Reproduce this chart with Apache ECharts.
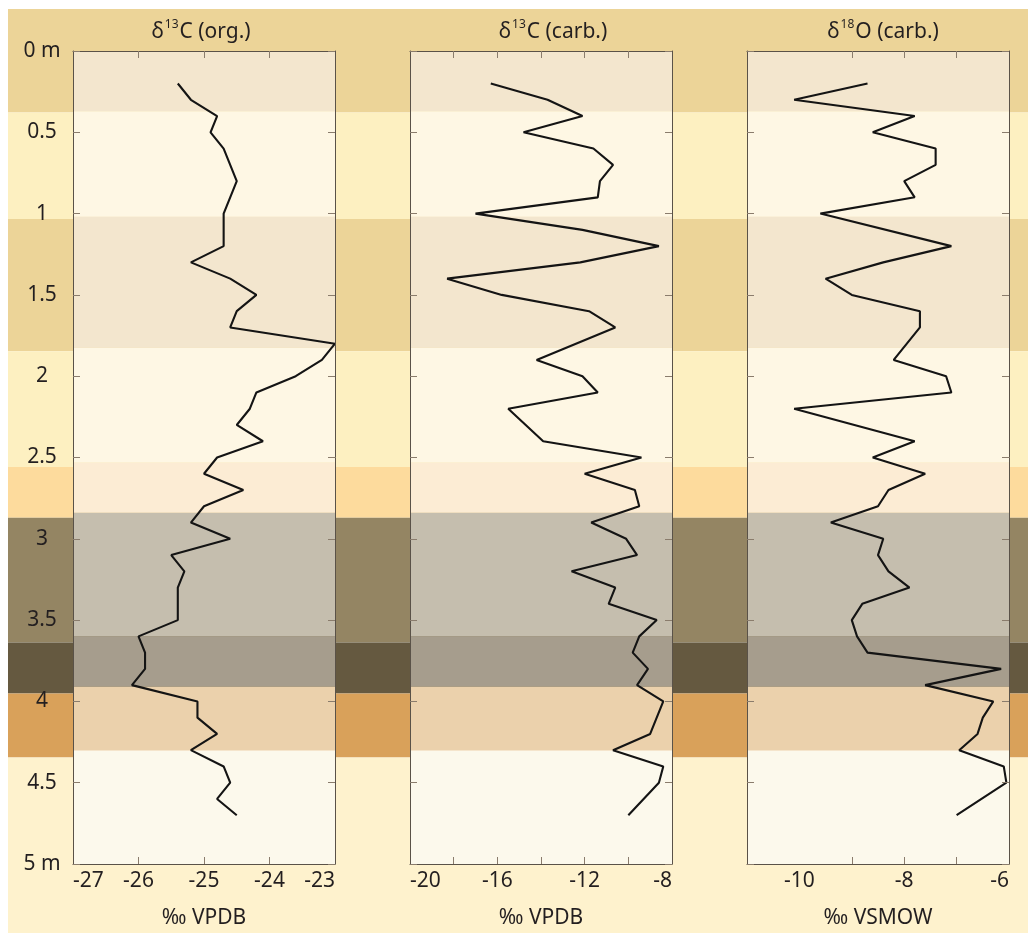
<!DOCTYPE html>
<html>
<head>
<meta charset="utf-8">
<script src="https://cdn.jsdelivr.net/npm/echarts@6/dist/echarts.min.js"></script>
<style>
html,body{margin:0;padding:0;background:#fff;}
#c{width:1028px;height:934px;}
</style>
</head>
<body>
<div id="c"></div>
<script>
// ---------- data ----------
const depthOrg = [0.2,0.3,0.4,0.5,0.6,0.8,1.0,1.2,1.3,1.4,1.5,1.6,1.7,1.8,1.9,2.0,2.1,2.2,2.3,2.4,2.5,2.6,2.7,2.8,2.9,3.0,3.1,3.2,3.3,3.5,3.6,3.7,3.8,3.9,4.0,4.1,4.2,4.3,4.4,4.5,4.6,4.7];
const d13Corg = [-25.4,-25.2,-24.8,-24.9,-24.7,-24.5,-24.7,-24.7,-25.2,-24.6,-24.2,-24.5,-24.6,-23.0,-23.2,-23.6,-24.2,-24.3,-24.5,-24.1,-24.8,-25.0,-24.4,-25.0,-25.2,-24.6,-25.5,-25.3,-25.4,-25.4,-26.0,-25.9,-25.9,-26.1,-25.1,-25.1,-24.8,-25.2,-24.7,-24.6,-24.8,-24.5];

const depthCarb = [0.2,0.3,0.4,0.5,0.6,0.7,0.8,0.9,1.0,1.1,1.2,1.3,1.4,1.5,1.6,1.7,1.9,2.0,2.1,2.2,2.4,2.5,2.6,2.7,2.8,2.9,3.0,3.1,3.2,3.3,3.4,3.5,3.6,3.7,3.8,3.9,4.0,4.2,4.3,4.4,4.5,4.7];
const d13Ccarb = [-16.3,-13.7,-12.1,-14.8,-11.6,-10.7,-11.3,-11.4,-17.0,-12.1,-8.6,-12.2,-18.3,-15.8,-11.8,-10.6,-14.2,-12.1,-11.4,-15.5,-13.9,-9.4,-12.0,-9.7,-9.5,-11.7,-10.1,-9.6,-12.6,-10.6,-10.9,-8.7,-9.5,-9.8,-9.1,-9.6,-8.4,-9.0,-10.7,-8.4,-8.6,-10.0];

const depthOxy = [0.2,0.3,0.4,0.5,0.6,0.7,0.8,0.9,1.0,1.2,1.3,1.4,1.5,1.6,1.7,1.9,2.0,2.1,2.2,2.4,2.5,2.6,2.7,2.8,2.9,3.0,3.1,3.2,3.3,3.4,3.5,3.6,3.7,3.8,3.9,4.0,4.1,4.2,4.3,4.4,4.5,4.7];
const d18Ocarb = [-8.7,-10.1,-7.8,-8.6,-7.4,-7.4,-8.0,-7.8,-9.6,-7.1,-8.4,-9.5,-9.0,-7.7,-7.7,-8.2,-7.2,-7.1,-10.1,-7.8,-8.6,-7.6,-8.3,-8.5,-9.4,-8.4,-8.5,-8.3,-7.9,-8.8,-9.0,-8.9,-8.7,-6.15,-7.6,-6.3,-6.5,-6.6,-6.95,-6.1,-6.05,-7.0];

// lithological bands (depth top / bottom, m)
const bandTop    = [-0.26, 0.37, 1.02, 1.825, 2.53, 2.84, 3.60, 3.91, 4.30];
const bandBottom = [0.37, 1.02, 1.825, 2.53, 2.84, 3.60, 3.91, 4.30, 5.37];
const bandOuter  = ['#ECD498','#FDF0C1','#ECD498','#FDF0C1','#FDDB9D','#948563','#655940','#D9A15A','#FEF2CD'];
const bandInner  = ['#F3E6CE','#FEF7E4','#F3E6CE','#FEF7E4','#FCECD4','#C5BEAE','#A69D8D','#EBD1AC','#FCF9EC'];

const depthTicks = [0,0.5,1,1.5,2,2.5,3,3.5,4,4.5,5];

const panelTitles = [['δ','13','C (org.)'],['δ','13','C (carb.)'],['δ','18','O (carb.)']];
const panelUnits = ['‰ VPDB','‰ VPDB','‰ VSMOW'];
const xMin = [-27, -20, -11];
const xMax = [-23, -8, -6];
const xInterval = [1, 2, 1];
const xLabelVals = [[-27,-26,-25,-24,-23],[-20,-16,-12,-8],[-10,-8,-6]];
const xTickVals = [[-26,-25,-24],[-18,-16,-14,-12,-10],[-9,-8,-7]];

// ---------- layout ----------
const FONT = 'Noto Sans';
const TXT = '#231f20';
const AX = '#5a5248';
const TICKC = '#8a7c6c';
const gridLefts = [73, 410, 747];
const gridW = 262;
const gridTop = 51, gridBottom = 62;

const grids = [], xAxes = [], yAxes = [], series = [], graphics = [];

// background grid (index 0)
grids.push({left: 8, right: 0, top: 9, bottom: 1, show: false});
xAxes.push({gridIndex: 0, type: 'value', min: 0, max: 1, show: false});
yAxes.push({gridIndex: 0, type: 'value', min: -0.26, max: 5.37, inverse: true, show: false});

const bandData = bandTop.map((t, i) => [t, bandBottom[i], i]);

function bandRenderer(x0, x1, colors) {
  return function (params, api) {
    const t = api.value(0), b = api.value(1), i = api.value(2);
    const p1 = api.coord([x0, t]);
    const p2 = api.coord([x1, b]);
    return {type: 'rect', shape: {x: p1[0], y: p1[1], width: p2[0] - p1[0], height: p2[1] - p1[1]},
            style: {fill: colors[i]}};
  };
}

series.push({type: 'custom', xAxisIndex: 0, yAxisIndex: 0, z: 0, silent: true,
  renderItem: bandRenderer(0, 1, bandOuter), data: bandData, encode: {x: -1, y: -1}});

const lines = [[d13Corg, depthOrg],[d13Ccarb, depthCarb],[d18Ocarb, depthOxy]];

for (let p = 0; p < 3; p++) {
  const gi = p + 1;
  grids.push({left: gridLefts[p], width: gridW, top: gridTop, bottom: gridBottom, show: false});
  const lblVals = xLabelVals[p];
  // bottom x axis with labels
  xAxes.push({gridIndex: gi, type: 'value', position: 'bottom', min: xMin[p], max: xMax[p], interval: xInterval[p], z: 5,
    splitLine: {show: false},
    axisLine: {show: true, onZero: false, lineStyle: {color: AX, width: 1}},
    axisTick: {show: true, inside: true, length: 7, customValues: xTickVals[p], lineStyle: {color: TICKC, width: 1}},
    axisLabel: {show: true, customValues: lblVals, color: TXT, fontFamily: FONT, fontSize: 21, margin: 7,
      alignMinLabel: p < 2 ? 'left' : 'center', alignMaxLabel: 'right'},
    name: panelUnits[p], nameLocation: 'middle', nameGap: 44,
    nameTextStyle: {color: TXT, fontFamily: FONT, fontSize: 21}});
  // top x axis (ticks only)
  xAxes.push({gridIndex: gi, type: 'value', position: 'top', min: xMin[p], max: xMax[p], interval: xInterval[p], z: 5,
    splitLine: {show: false},
    axisLine: {show: true, onZero: false, lineStyle: {color: AX, width: 1}},
    axisTick: {show: true, inside: true, length: 7, customValues: xTickVals[p], lineStyle: {color: TICKC, width: 1}},
    axisLabel: {show: false}});
  // left y axis
  yAxes.push({gridIndex: gi, type: 'value', position: 'left', min: 0, max: 5, interval: 0.5, inverse: true, z: 5,
    splitLine: {show: false},
    axisLine: {show: true, onZero: false, lineStyle: {color: AX, width: 1}},
    axisTick: {show: true, inside: true, length: 7, lineStyle: {color: TICKC, width: 1}},
    axisLabel: {show: p === 0, customValues: depthTicks, color: TXT, fontFamily: FONT, fontSize: 21, margin: 31, align: 'center',
      formatter: v => (v === 0 ? '0 m' : v === 5 ? '5 m' : String(v))}});
  // right y axis
  yAxes.push({gridIndex: gi, type: 'value', position: 'right', min: 0, max: 5, interval: 0.5, inverse: true, z: 5,
    splitLine: {show: false},
    axisLine: {show: true, onZero: false, lineStyle: {color: AX, width: 1}},
    axisTick: {show: true, inside: true, length: 7, lineStyle: {color: TICKC, width: 1}},
    axisLabel: {show: false}});

  const xb = xAxes.length - 2;
  const yl = yAxes.length - 2;
  series.push({type: 'custom', xAxisIndex: xb, yAxisIndex: yl, z: 1, silent: true, clip: true,
    renderItem: bandRenderer(xMin[p], xMax[p], bandInner), data: bandData, encode: {x: -1, y: -1}});
  const vals = lines[p][0], deps = lines[p][1];
  series.push({type: 'line', xAxisIndex: xb, yAxisIndex: yl, z: 3, symbol: 'none', smooth: false, silent: true,
    clip: false,
    lineStyle: {color: '#141414', width: 2.1}, data: vals.map((v, i) => [v, deps[i]])});

  const t = panelTitles[p];
  graphics.push({type: 'text', x: gridLefts[p] + gridW / 2 + [-3, 12, 5][p], y: 32, z: 10,
    style: {text: '{d|' + t[0] + '}{s|' + t[1] + '}{d|' + t[2] + '}', align: 'center', verticalAlign: 'middle',
      rich: {d: {fontFamily: FONT, fontSize: 21, fill: TXT, lineHeight: 26},
             s: {fontFamily: FONT, fontSize: 12, fill: TXT, verticalAlign: 'top', lineHeight: 26, padding: [0, 1, 10, 1]}}}});
}

const chart = echarts.init(document.getElementById('c'), null, {renderer: 'canvas'});
chart.setOption({
  animation: false,
  backgroundColor: '#ffffff',
  grid: grids, xAxis: xAxes, yAxis: yAxes, series: series, graphic: graphics
});
</script>
</body>
</html>
